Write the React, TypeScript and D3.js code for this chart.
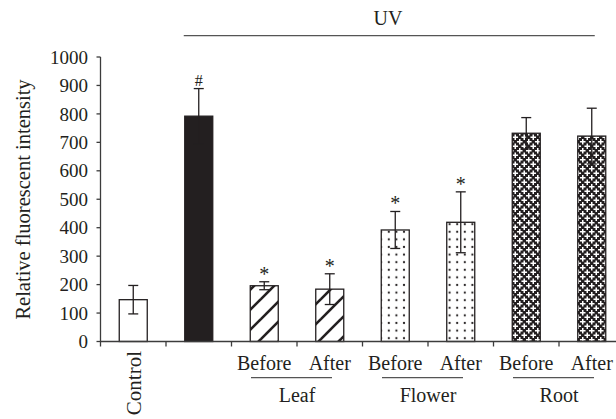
import React from "react";
import * as d3 from "d3";

const categories = ["Control", "UV", "Leaf Before", "Leaf After", "Flower Before", "Flower After", "Root Before", "Root After"];
const values = [147, 792, 196, 184, 392, 419, 732, 722];
const errors = [50, 97, 14, 54, 65, 107, 55, 98];
const marks = ["", "#", "*", "*", "*", "*", "", ""];
const fills = ["white", "solid", "stripe", "stripe", "dots", "dots", "cross", "cross"];
const subLabels = ["", "", "Before", "After", "Before", "After", "Before", "After"];
const groupNames = ["Leaf", "Flower", "Root"];
const groupMembers = [[2, 3], [4, 5], [6, 7]];
const yTicks = [0, 100, 200, 300, 400, 500, 600, 700, 800, 900, 1000];

const W = 616, H = 419;
const INK = "#231f20";
const AXIS = "#3c3c3c";
const FONT = "Liberation Serif, DejaVu Serif, serif";

export default function App() {
  const x = d3.scaleBand<string>().domain(categories).range([100.5, 624.5]).padding(0);
  const y = d3.scaleLinear().domain([0, 1000]).range([341.5, 57]);
  const bw = 28;
  const cx = (i: number) => (x(categories[i]) as number) + x.bandwidth() / 2;

  const fillFor = (f: string) =>
    f === "white" ? "white" : f === "solid" ? INK : `url(#p-${f})`;

  const uvStart = cx(1) - bw / 2 - 1;
  const uvEnd = cx(7) + 3;

  return (
    <svg width={W} height={H} style={{ position: "absolute", left: 0, top: 0, fontFamily: FONT }}>
      <defs>
        <pattern id="p-stripe" patternUnits="userSpaceOnUse" width={20} height={20}>
          <rect width={20} height={20} fill="white" />
          <g stroke={INK} strokeWidth={2.6}>
            <line x1={-2} y1={22} x2={22} y2={-2} />
            <line x1={-5} y1={5} x2={5} y2={-5} />
            <line x1={15} y1={25} x2={25} y2={15} />
          </g>
        </pattern>
        <pattern id="p-dots" patternUnits="userSpaceOnUse" width={7.6} height={7.6} x={385} y={0}>
          <rect width={7.6} height={7.6} fill="white" />
          <circle cx={3.8} cy={3.8} r={1.1} fill={INK} />
        </pattern>
        <pattern id="p-cross" patternUnits="userSpaceOnUse" width={9} height={9}>
          <rect width={9} height={9} fill={INK} />
          <g stroke="white" strokeWidth={1.5}>
            <line x1={2.25 - 2.8} y1={2.25} x2={2.25 + 2.8} y2={2.25} />
            <line x1={2.25} y1={2.25 - 2.8} x2={2.25} y2={2.25 + 2.8} />
            <line x1={6.75 - 2.8} y1={6.75} x2={6.75 + 2.8} y2={6.75} />
            <line x1={6.75} y1={6.75 - 2.8} x2={6.75} y2={6.75 + 2.8} />
            <line x1={-2.25 - 2.8} y1={6.75} x2={-2.25 + 2.8} y2={6.75} />
            <line x1={6.75} y1={-2.25 - 2.8} x2={6.75} y2={-2.25 + 2.8} />
            <line x1={11.25 - 2.8} y1={2.25} x2={11.25 + 2.8} y2={2.25} />
            <line x1={2.25} y1={11.25 - 2.8} x2={2.25} y2={11.25 + 2.8} />
          </g>
        </pattern>
      </defs>

      {/* UV bracket */}
      <line x1={uvStart} x2={uvEnd} y1={35.7} y2={35.7} stroke="#555" strokeWidth={1.3} />
      <text x={388} y={25} textAnchor="middle" fontSize={20} fill={INK}>UV</text>

      {/* bars */}
      {categories.map((c, i) => (
        <rect
          key={c}
          x={cx(i) - bw / 2}
          y={y(values[i])}
          width={bw}
          height={y(0) - y(values[i])}
          fill={fillFor(fills[i])}
          stroke={INK}
          strokeWidth={1.3}
        />
      ))}

      {/* error bars */}
      {categories.map((c, i) => {
        const top = y(values[i] + errors[i]);
        const bot = y(values[i] - errors[i]);
        return (
          <g key={"e" + c} stroke={INK} strokeWidth={1.3}>
            <line x1={cx(i)} x2={cx(i)} y1={top} y2={bot} />
            <line x1={cx(i) - 5} x2={cx(i) + 5} y1={top} y2={top} />
            <line x1={cx(i) - 5} x2={cx(i) + 5} y1={bot} y2={bot} />
          </g>
        );
      })}

      {/* significance marks */}
      {categories.map((c, i) =>
        marks[i] ? (
          <text
            key={"m" + c}
            x={cx(i)}
            y={y(values[i] + errors[i]) - (marks[i] === "#" ? 3 : 1)}
            textAnchor="middle"
            fontSize={marks[i] === "#" ? 16 : 20}
            fill={INK}
          >
            {marks[i]}
          </text>
        ) : null
      )}

      {/* y axis */}
      <line x1={100.5} x2={100.5} y1={y(0)} y2={y(1000)} stroke={AXIS} strokeWidth={1.3} />
      {yTicks.map((t) => (
        <g key={"yt" + t}>
          <line x1={96.5} x2={100.5} y1={y(t)} y2={y(t)} stroke={AXIS} strokeWidth={1.3} />
          <text x={88} y={y(t)} dy="0.35em" textAnchor="end" fontSize={19} fill={INK}>
            {t}
          </text>
        </g>
      ))}
      <text
        transform={`translate(23,${(77 + 322) / 2}) rotate(-90)`}
        textAnchor="middle"
        dy="0.35em"
        fontSize={20.5}
        fill={INK}
      >
        Relative fluorescent intensity
      </text>

      {/* x axis */}
      <line x1={100} x2={W} y1={y(0)} y2={y(0)} stroke={AXIS} strokeWidth={1.3} />
      {categories.map((c) => (
        <line
          key={"xt" + c}
          x1={x(c) as number}
          x2={x(c) as number}
          y1={y(0)}
          y2={y(0) + 5}
          stroke={AXIS}
          strokeWidth={1.3}
        />
      ))}

      {/* Control label */}
      <text
        transform={`translate(${cx(0)},351) rotate(-90)`}
        textAnchor="end"
        dy="0.35em"
        fontSize={21}
        fill={INK}
      >
        Control
      </text>

      {/* Before / After labels */}
      {categories.map((c, i) =>
        subLabels[i] ? (
          <text key={"s" + c} x={cx(i)} y={370} textAnchor="middle" fontSize={20} fill={INK}>
            {subLabels[i]}
          </text>
        ) : null
      )}

      {/* groups */}
      {groupNames.map((g, gi) => {
        const [a, b] = groupMembers[gi];
        const mid = (cx(a) + cx(b)) / 2;
        return (
          <g key={g}>
            <line x1={mid - 46} x2={mid + 35} y1={377.7} y2={377.7} stroke="#555" strokeWidth={1.3} />
            <text x={mid} y={402} textAnchor="middle" fontSize={20} fill={INK}>
              {g}
            </text>
          </g>
        );
      })}
    </svg>
  );
}
